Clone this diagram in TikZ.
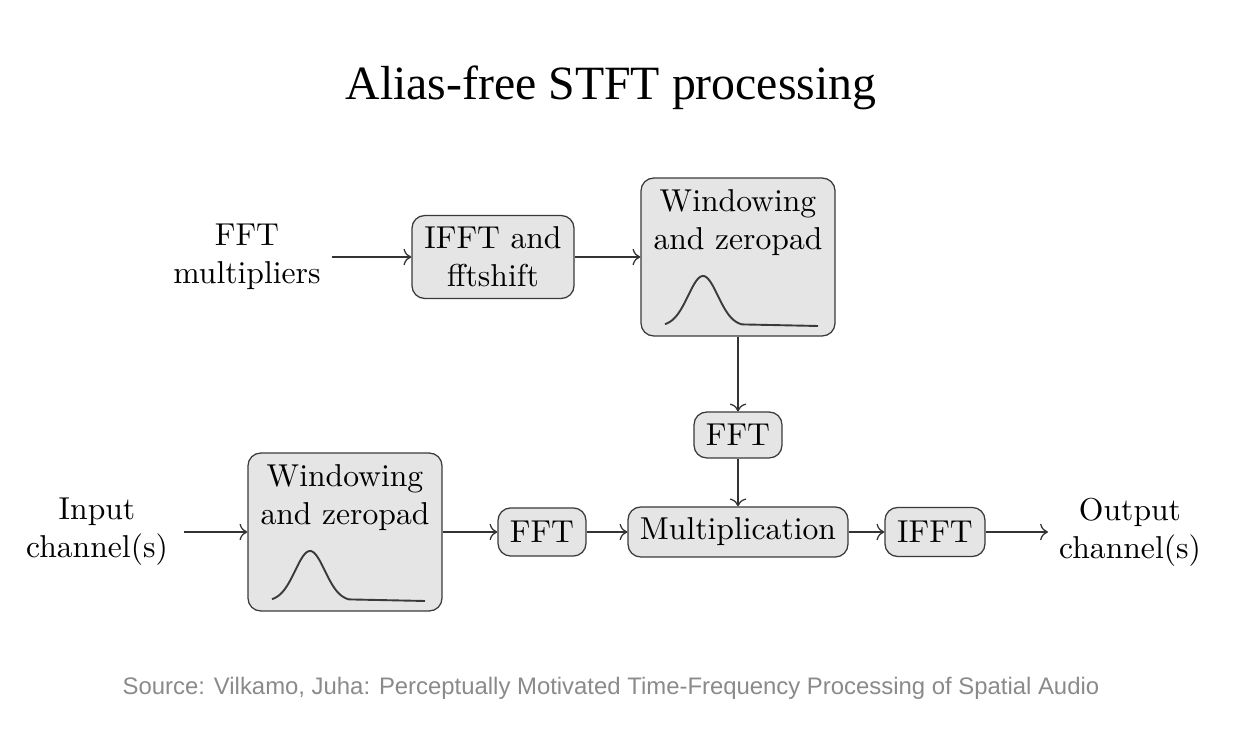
\documentclass[tikz,border=0pt]{standalone}
\usepackage{fontspec}
\newfontfamily\titlefont{Liberation Serif}
\newfontfamily\notefont{Liberation Sans}
\usetikzlibrary{arrows.meta,positioning}
\definecolor{boxfill}{HTML}{E5E5E5}
\definecolor{boxline}{HTML}{3A3A3A}
\definecolor{notegray}{HTML}{8A8A8A}

\begin{document}
\begin{tikzpicture}[x=0.316pt,y=-0.316pt,
  blk/.style={draw=boxline,fill=boxfill,rounded corners=4pt,align=center,inner sep=2pt},
  winbox/.style={blk,minimum width=61.3pt,minimum height=49.9pt},
  wintext/.style={anchor=north,align=center,inner sep=3.5pt},
  lbl/.style={align=center},
  flow/.style={->,draw=black!80}]
  \useasboundingbox (0,0) rectangle (1244,730);

  % Title
  \node[font=\titlefont\fontsize{15.1}{18}\selectfont] (title) at (611,88) {Alias-free STFT processing};

  % Upper branch: the multipliers become a window
  \node[lbl] (mult) at (247,257) {FFT\\multipliers};
  \node[blk,minimum width=51.2pt,minimum height=26.2pt] (ifft) at (493,257) {IFFT and\\fftshift};
  \node[winbox] (winA) at (738,257) {};
  \node[wintext] (winAtxt) at (winA.north) {Windowing\\and zeropad};
  \node[blk,minimum width=27.8pt,minimum height=14.5pt] (fftB) at (738,435) {FFT};

  % Lower branch: signal path
  \node[lbl,inner xsep=5pt] (inp) at (97,532) {Input\\channel(s)};
  \node[winbox] (winB) at (345,532) {};
  \node[wintext] (winBtxt) at (winB.north) {Windowing\\and zeropad};
  \node[blk,minimum width=27.8pt,minimum height=15.2pt] (fftA) at (542,532) {FFT};
  \node[blk,minimum width=69.5pt,minimum height=15.8pt] (prod) at (738,532) {Multiplication};
  \node[blk,minimum width=31.6pt,minimum height=15.5pt] (ifftB) at (935,532) {IFFT};
  \node[lbl] (outp) at (1130,532) {Output\\channel(s)};

  % Window shapes
  \foreach \w in {winA,winB}{
    \begin{scope}[shift={(\w.center)}]
      \draw[boxline,semithick] plot[domain=-73:4,samples=60,smooth] (\x,{69-50*exp(-1*pow((\x+35)/21,2))}) -- (80,69);
    \end{scope}
  }

  % Arrows
  \draw[flow] (mult) -- (ifft);
  \draw[flow] (ifft) -- (winA);
  \draw[flow] (winA) -- (fftB);
  \draw[flow] (fftB) -- (prod);
  \draw[flow] (inp) -- (winB);
  \draw[flow] (winB) -- (fftA);
  \draw[flow] (fftA) -- (prod);
  \draw[flow] (prod) -- (ifftB);
  \draw[flow] (ifftB) -- (outp);

  % Source line
  \node[font=\notefont\fontsize{7.55}{9}\selectfont,text=notegray] (src) at (611,688) {Source: Vilkamo, Juha: Perceptually Motivated Time-Frequency Processing of Spatial Audio};
\end{tikzpicture}
\end{document}
